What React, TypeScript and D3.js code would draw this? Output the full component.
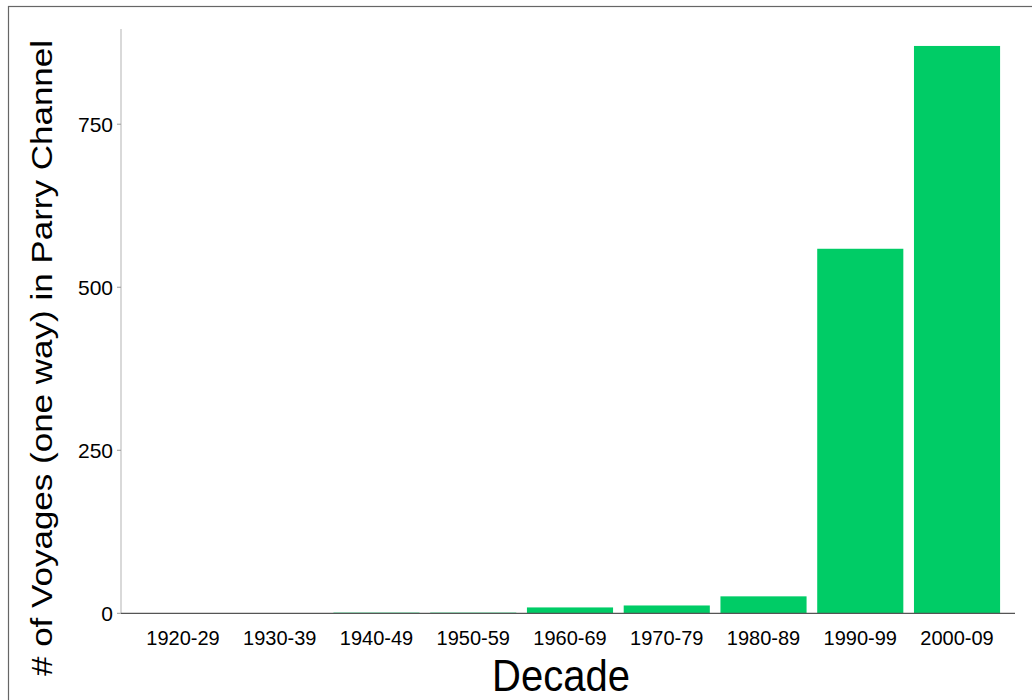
import React from "react";
import * as d3 from "d3";

const decades = ["1920-29", "1930-39", "1940-49", "1950-59", "1960-69", "1970-79", "1980-89", "1990-99", "2000-09"];
const voyages = [0, 0, 1, 1, 9, 12, 26, 559, 870];
const yTicks = [0, 250, 500, 750];

const W = 1032;
const H = 700;
const left = 121;
const right = 1015;
const top = 29;
const bottom = 613.3;

export default function App() {
  const x = d3.scaleBand<string>().domain(decades).range([left + 1.5, right + 2.5]).paddingInner(0.11).paddingOuter(0.18);
  const y = d3.scaleLinear().domain([0, 896]).range([bottom, top]);
  const font = "Liberation Sans, Arial, sans-serif";
  return (
    <svg width={W} height={H} style={{ position: "absolute", left: 0, top: 0, background: "#fff" }} fontFamily={font}>
      <rect x={8.5} y={6.5} width={W + 10} height={H + 10} fill="#fff" stroke="#666" strokeWidth={1.2} />
      {decades.map((d, i) => {
        const h = bottom - y(voyages[i]);
        return (
          <rect key={d} x={x(d)} y={y(voyages[i])} width={x.bandwidth()} height={Math.max(0, h)} fill="#00cc66" />
        );
      })}
      <line x1={left} x2={left} y1={top} y2={bottom} stroke="#cccccc" strokeWidth={1.5} />
      <line x1={left} x2={right} y1={bottom} y2={bottom} stroke="#555" strokeWidth={1.2} />
      {yTicks.map((t) => (
        <g key={t}>
          <line x1={left - 4} x2={left} y1={y(t)} y2={y(t)} stroke="#999" strokeWidth={1} />
          <text x={left - 8} y={y(t)} dy="0.36em" textAnchor="end" fontSize={21} fill="#000">{t}</text>
        </g>
      ))}
      {decades.map((d) => (
        <text key={d} x={(x(d) as number) + x.bandwidth() / 2} y={645} textAnchor="middle" fontSize={20} fill="#000">{d}</text>
      ))}
      <text transform="translate(561, 691) scale(1, 1.12)" textAnchor="middle" fontSize={40} fill="#000">Decade</text>
      <text transform="translate(52, 358) rotate(-90) scale(1, 0.82)" textAnchor="middle" fontSize={35} fill="#000">
        # of Voyages (one way) in Parry Channel
      </text>
    </svg>
  );
}
